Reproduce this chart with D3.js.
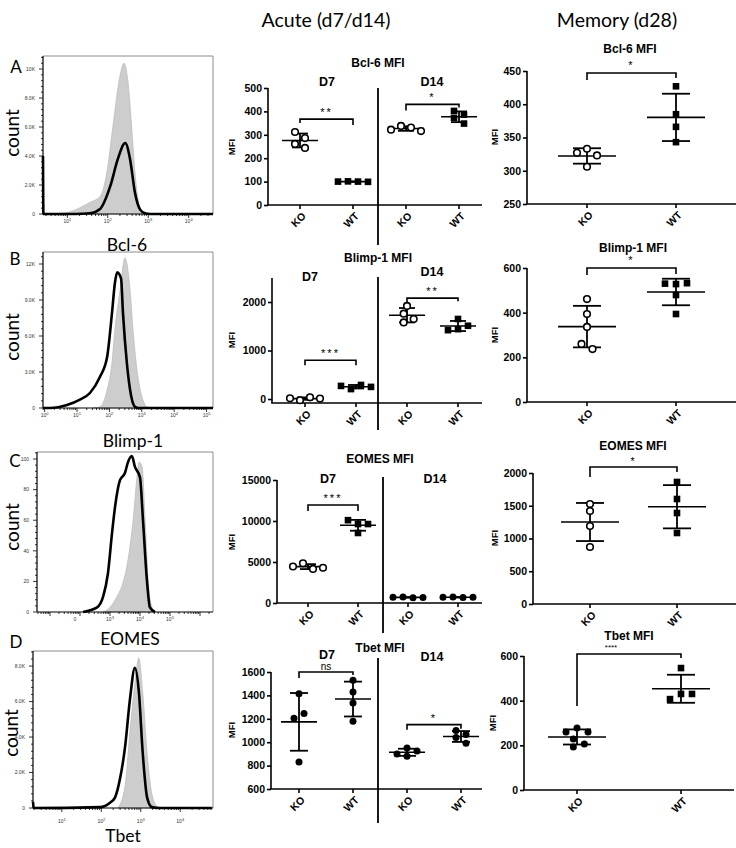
<!DOCTYPE html>
<html><head><meta charset="utf-8">
<script src="https://cdn.jsdelivr.net/npm/d3@7"></script>
<style>body{margin:0;background:#fff}svg{display:block}</style>
</head><body>
<script>
// ================= DATA =================
const groups = ["KO", "WT"];
const acuteCats = ["KO", "WT", "KO", "WT"];

// Flow histograms: [log10 fluorescence, count]
const bcl6HistFilled = [[0.7,20],[0.99,100],[1.56,800],[1.81,1200],[1.98,2900],[2.13,6100],[2.30,9500],[2.40,10400],[2.50,9100],[2.60,5600],[2.67,2900],[2.75,1000],[2.85,100],[3.0,0]];
const bcl6HistLine = [[0.4,4000],[0.41,0],[1.2,0],[1.56,50],[1.81,350],[2.06,1900],[2.25,3800],[2.43,4900],[2.55,3800],[2.67,1500],[2.80,300],[2.92,50],[3.05,0],[4.6,0]];
const blimpHistFilled = [[1.5,0],[1.71,100],[1.93,1500],[2.08,3750],[2.17,6500],[2.33,9800],[2.48,12500],[2.64,9800],[2.73,6500],[2.85,3200],[3.01,900],[3.16,100],[3.32,0]];
const blimpHistLine = [[-0.05,0],[0.17,0],[0.69,250],[1.09,700],[1.40,1250],[1.71,2600],[1.93,4250],[2.08,7900],[2.17,10400],[2.24,11300],[2.36,10800],[2.42,7900],[2.54,3750],[2.64,1500],[2.79,100],[2.9,0],[5.2,0]];
const eomesHistFilled = [[2.77,0],[3.0,3],[3.23,10],[3.43,19],[3.6,34],[3.77,60],[3.9,88],[3.97,98],[4.07,95],[4.17,60],[4.27,21],[4.4,3],[4.5,0]];
const eomesHistLine = [[2.1,0],[2.57,3],[2.77,10],[2.93,25],[3.07,52],[3.17,69],[3.33,86],[3.5,91],[3.6,98],[3.73,102],[3.83,95],[4.0,88],[4.1,60],[4.23,21],[4.33,3],[4.5,0]];
const tbetHistFilled = [[2.42,0],[2.60,1200],[2.73,4400],[2.85,7000],[2.95,8450],[3.05,6500],[3.16,3100],[3.28,800],[3.41,100],[3.54,0]];
const tbetHistLine = [[0.27,350],[0.29,0],[1.97,50],[2.22,300],[2.35,600],[2.47,1600],[2.60,3400],[2.73,6200],[2.85,7900],[2.95,6600],[3.05,3100],[3.16,600],[3.28,50],[3.49,0],[4.8,0]];

// Histogram axis ticks
const bcl6CountTicks = [0,2000,4000,6000,8000,10000];
const bcl6CountLabels = ["0","2.0K","4.0K","6.0K","8.0K","10K"];
const blimpCountTicks = [0,3000,6000,9000,12000];
const blimpCountLabels = ["0","3.0K","6.0K","9.0K","12K"];
const eomesCountTicks = [0,20,40,60,80,100];
const eomesCountLabels = ["0","20","40","60","80","100"];
const tbetCountTicks = [0,2000,4000,6000,8000];
const tbetCountLabels = ["0","2.0K","4.0K","6.0K","8.0K"];
const bcl6Decades = [1,2,3,4];
const blimpDecades = [0,1,2,3,4,5];
const eomesDecades = [3,4,5];
const tbetDecades = [1,2,3,4];

// Acute MFI (D7 KO, D7 WT, D14 KO, D14 WT)
const bcl6AcuteD7KO = [312, 286, 261, 244];
const bcl6AcuteD7WT = [101, 100, 100, 99];
const bcl6AcuteD14KO = [338, 331, 322, 316];
const bcl6AcuteD14WT = [402, 386, 372, 348];
const bcl6AcuteTicks = [0,100,200,300,400,500];
const bcl6AcuteSig = ["**", "*"];
const bcl6AcuteBracket = [367, 430];

const blimpAcuteD7KO = [-25, 35, 15, 10];
const blimpAcuteD7WT = [205, 290, 270, 250];
const blimpAcuteD14KO = [1920, 1760, 1650, 1580];
const blimpAcuteD14WT = [1650, 1510, 1440, 1420];
const blimpAcuteTicks = [0,1000,2000];
const blimpAcuteSig = ["***", "**"];
const blimpAcuteBracket = [800, 2080];

const eomesAcuteD7KO = [4850, 4150, 4450, 4300];
const eomesAcuteD7WT = [9630, 9630, 10100, 8540];
const eomesAcuteD14KO = [720, 650, 700, 680];
const eomesAcuteD14WT = [740, 660, 690, 700];
const eomesAcuteTicks = [0,5000,10000,15000];
const eomesAcuteSig = ["***"];
const eomesAcuteBracket = [11950];

const tbetAcuteD7KO = [1415, 1205, 1245, 830];
const tbetAcuteD7WT = [1530, 1430, 1335, 1180];
const tbetAcuteD14KO = [950, 925, 900, 880];
const tbetAcuteD14WT = [1100, 1065, 1040, 990];
const tbetAcuteTicks = [600,800,1000,1200,1400,1600];
const tbetAcuteSig = ["ns", "*"];
const tbetAcuteBracket = [1600, 1150];

// Memory MFI (d28)
const bcl6MemKO = [333, 323, 327, 306];
const bcl6MemWT = [427, 385, 366, 343];
const bcl6MemTicks = [250,300,350,400,450];
const blimpMemKO = [461, 394, 336, 260, 237];
const blimpMemWT = [528, 532, 530, 479, 394];
const blimpMemTicks = [0,200,400,600];
const eomesMemKO = [1527, 1420, 1190, 870];
const eomesMemWT = [1863, 1603, 1389, 1084];
const eomesMemTicks = [0,500,1000,1500,2000];
const tbetMemKO = [278, 260, 260, 228, 206, 193];
const tbetMemWT = [546, 430, 430, 407];
const tbetMemTicks = [0,200,400,600];
const memSig = ["*", "*", "*", "****"];
const memBracket = [447, 600, 2092, 609];

// ================= DRAWING =================
const W = 736, H = 848;
const ARIAL = "'Liberation Sans', Arial, Helvetica, sans-serif";
const CAL = "Lato, 'Open Sans', sans-serif";
const svg = d3.select("body").append("svg").attr("width", W).attr("height", H);
svg.append("rect").attr("width", W).attr("height", H).attr("fill", "#fff");

function txt(x, y, s, size, opts = {}) {
  const t = svg.append("text").attr("x", x).attr("y", y).text(s)
    .style("font-family", opts.family || ARIAL)
    .style("font-size", size + "px")
    .style("font-weight", opts.weight || "normal")
    .attr("text-anchor", opts.anchor || "middle")
    .attr("fill", opts.fill || "#000");
  if (opts.rotate) t.attr("transform", `rotate(${opts.rotate},${x},${y})`);
  if (opts.ls) t.style("letter-spacing", opts.ls);
  return t;
}

// Headers
txt(326, 27, "Acute (d7/d14)", 19.5, {family: CAL});
txt(617, 27, "Memory (d28)", 19.5, {family: CAL});

// ---------- Histograms ----------
function histogram(o) {
  const g = svg.append("g");
  const x = d3.scaleLinear().domain(o.xDomain).range([o.left, o.right]);
  const y = d3.scaleLinear().domain([0, o.yTopVal]).range([o.bottom, o.top]);
  g.append("path").attr("d", `M${o.left},${o.top}H${o.right}V${o.bottom}`)
    .attr("fill", "none").attr("stroke", "#8c8c8c").attr("stroke-width", 1);
  const area = d3.area().x(d => x(d[0])).y0(y(0)).y1(d => y(d[1])).curve(d3.curveMonotoneX);
  g.append("path").datum(o.filled).attr("d", area)
    .attr("fill", "#cdcdcd").attr("stroke", "#bcbcbc").attr("stroke-width", 0.8);
  const line = d3.line().x(d => x(d[0])).y(d => y(d[1])).curve(d3.curveMonotoneX);
  g.append("path").datum(o.line).attr("d", line)
    .attr("fill", "none").attr("stroke", "#000").attr("stroke-width", 2.6).attr("stroke-linejoin", "round");
  // left axis
  g.append("line").attr("x1", o.left).attr("x2", o.left).attr("y1", o.top).attr("y2", o.bottom)
    .attr("stroke", "#000").attr("stroke-width", 1.2);
  const step = o.yTicks[1] - o.yTicks[0];
  for (let v = 0; v <= o.yTopVal; v += step / 5) {
    const major = o.yTicks.some(t => Math.abs(t - v) < 1e-6);
    g.append("line").attr("x1", o.left - (major ? 4 : 2)).attr("x2", o.left)
      .attr("y1", y(v)).attr("y2", y(v)).attr("stroke", "#000").attr("stroke-width", 0.8);
  }
  o.yTicks.forEach((t, i) => {
    g.append("text").attr("x", o.left - 8).attr("y", y(t) + 1.8).text(o.yLabels[i])
      .attr("text-anchor", "end").style("font-family", ARIAL).style("font-size", "5px").attr("fill", "#333");
  });
  // bottom axis
  g.append("line").attr("x1", o.left).attr("x2", o.right).attr("y1", o.bottom).attr("y2", o.bottom)
    .attr("stroke", "#000").attr("stroke-width", 1.2);
  const d0 = Math.floor(o.xDomain[0]), d1 = Math.ceil(o.xDomain[1]);
  for (let d = d0; d <= d1; d++) {
    for (let k = 1; k <= 9; k++) {
      const v = d + Math.log10(k);
      if (v < o.xDomain[0] || v > o.xDomain[1]) continue;
      g.append("line").attr("x1", x(v)).attr("x2", x(v)).attr("y1", o.bottom).attr("y2", o.bottom + (k === 1 ? 4 : 2))
        .attr("stroke", "#000").attr("stroke-width", 0.8);
    }
  }
  o.decades.forEach(dd => {
    const t = g.append("text").attr("x", x(dd)).attr("y", o.bottom + o.labelDy)
      .attr("text-anchor", "middle").style("font-family", ARIAL).style("font-size", "5px").attr("fill", "#333");
    t.append("tspan").text("10");
    t.append("tspan").text(dd).attr("dy", -2.5).style("font-size", "4px");
  });
  if (o.zeroLabel) {
    g.append("text").attr("x", x(o.zeroLabel)).attr("y", o.bottom + o.labelDy).text("0")
      .attr("text-anchor", "middle").style("font-family", ARIAL).style("font-size", "5px").attr("fill", "#333");
  }
  // labels
  txt(o.letterX, o.letterY, o.letter, 17, {family: CAL});
  txt(o.countX, o.countY, "count", 19, {family: CAL, rotate: -90});
  txt(o.markerX, o.markerY, o.marker, 17.5, {family: CAL});
}

histogram({left: 43, right: 213, top: 56, bottom: 214, xDomain: [0.4, 4.6], yTopVal: 10900,
  filled: bcl6HistFilled, line: bcl6HistLine, yTicks: bcl6CountTicks, yLabels: bcl6CountLabels,
  decades: bcl6Decades, labelDy: 9, letter: "A", letterX: 16, letterY: 73, countX: 19, countY: 133,
  marker: "Bcl-6", markerX: 127, markerY: 251});
histogram({left: 43, right: 213, top: 252, bottom: 408, xDomain: [-0.05, 5.2], yTopVal: 13000,
  filled: blimpHistFilled, line: blimpHistLine, yTicks: blimpCountTicks, yLabels: blimpCountLabels,
  decades: blimpDecades, labelDy: 9, letter: "B", letterX: 15, letterY: 265, countX: 19, countY: 337,
  marker: "Blimp-1", markerX: 133, markerY: 447});
histogram({left: 37, right: 213, top: 452, bottom: 612, xDomain: [0.567, 6.433], yTopVal: 104.6,
  filled: eomesHistFilled, line: eomesHistLine, yTicks: eomesCountTicks, yLabels: eomesCountLabels,
  decades: eomesDecades, zeroLabel: 1.83, labelDy: 9, letter: "C", letterX: 15, letterY: 467, countX: 19, countY: 527,
  marker: "EOMES", markerX: 130, markerY: 645});
histogram({left: 33, right: 213, top: 651, bottom: 808, xDomain: [0.27, 4.83], yTopVal: 8850,
  filled: tbetHistFilled, line: tbetHistLine, yTicks: tbetCountTicks, yLabels: tbetCountLabels,
  decades: tbetDecades, labelDy: 15, letter: "D", letterX: 16, letterY: 648, countX: 18, countY: 733,
  marker: "Tbet", markerX: 123, markerY: 842});

// ---------- Dot plots ----------
function swarm(vals, y, d, thr) {
  const placed = [];
  vals.forEach(v => {
    const py = y(v);
    const cands = [0, d, -d, 2 * d, -2 * d, 3 * d, -3 * d];
    for (const c of cands) {
      if (!placed.some(p => Math.abs(p.py - py) < thr && Math.abs(p.o - c) < d * 0.9)) {
        placed.push({v, py, o: c}); break;
      }
    }
  });
  const n = placed.length, comp = new Array(n).fill(-1);
  let c = 0;
  for (let i = 0; i < n; i++) {
    if (comp[i] >= 0) continue;
    const st = [i]; comp[i] = c;
    while (st.length) {
      const a = st.pop();
      for (let b = 0; b < n; b++) if (comp[b] < 0 && Math.abs(placed[a].py - placed[b].py) < thr) { comp[b] = c; st.push(b); }
    }
    c++;
  }
  for (let k = 0; k < c; k++) {
    const m = placed.filter((p, i) => comp[i] === k);
    const mo = d3.mean(m, p => p.o);
    m.forEach(p => p.o -= mo);
  }
  return placed;
}

function marker(g, x, y, shape) {
  if (shape === "square") {
    g.append("rect").attr("x", x - 3.3).attr("y", y - 3.3).attr("width", 6.6).attr("height", 6.6).attr("fill", "#000");
  } else if (shape === "dot") {
    g.append("circle").attr("cx", x).attr("cy", y).attr("r", 3.5).attr("fill", "#000");
  } else {
    g.append("circle").attr("cx", x).attr("cy", y).attr("r", 3.3).attr("fill", "#fff").attr("stroke", "#000").attr("stroke-width", 1.6);
  }
}

function dotPanel(o) {
  const g = svg.append("g");
  const y = d3.scaleLinear().domain(o.yDomain).range([o.bottom, o.top]);
  const ax = g.append("g").attr("transform", `translate(${o.left},0)`)
    .call(d3.axisLeft(y).tickValues(o.yTicks).tickSize(4).tickSizeOuter(0).tickFormat(d3.format("d")));
  ax.select(".domain").attr("stroke-width", 1.6).attr("d", `M0,${o.bottom}V${o.top}`);
  ax.selectAll(".tick line").attr("stroke-width", 1.6);
  ax.selectAll("text").style("font-family", ARIAL).style("font-weight", "bold").style("font-size", o.tickFont + "px")
    .attr("x", -6);
  g.append("line").attr("x1", o.left - 0.8).attr("x2", o.right).attr("y1", o.bottom).attr("y2", o.bottom)
    .attr("stroke", "#000").attr("stroke-width", 1.6);
  o.cats.forEach((cname, i) => {
    const cx = o.x(i);
    g.append("line").attr("x1", cx).attr("x2", cx).attr("y1", o.bottom).attr("y2", o.bottom + 4)
      .attr("stroke", "#000").attr("stroke-width", 1.6);
    g.append("text").text(cname)
      .attr("transform", `translate(${cx + 4},${o.bottom + 9}) rotate(-45)`)
      .attr("text-anchor", "end").attr("dy", "0.35em")
      .style("font-family", ARIAL).style("font-weight", "bold").style("font-size", "10.5px");
  });
  o.series.forEach((s, i) => {
    const cx = o.x(i);
    const m = d3.mean(s.vals), sd = d3.deviation(s.vals);
    g.append("line").attr("x1", cx).attr("x2", cx).attr("y1", y(m - sd)).attr("y2", y(m + sd))
      .attr("stroke", "#000").attr("stroke-width", 1.8);
    g.append("line").attr("x1", cx - o.mw).attr("x2", cx + o.mw).attr("y1", y(m)).attr("y2", y(m))
      .attr("stroke", "#000").attr("stroke-width", 1.6);
    [m - sd, m + sd].forEach(v => g.append("line").attr("x1", cx - o.ww).attr("x2", cx + o.ww).attr("y1", y(v)).attr("y2", y(v))
      .attr("stroke", "#000").attr("stroke-width", 1.8));
    swarm(s.vals, y, o.swarmD, 7).forEach(p => marker(g, cx + p.o, p.py, s.shape));
  });
  o.brackets.forEach(b => {
    const x1 = o.x(b.i1), x2 = o.x(b.i2), yy = y(b.v);
    g.append("path").attr("d", `M${x1},${yy + b.leg1}V${yy}H${x2}V${yy + b.leg2}`)
      .attr("fill", "none").attr("stroke", "#000").attr("stroke-width", 1.6);
    txt((x1 + x2) / 2 + (b.dx || 0), yy - (b.lift || 3), b.label, b.size || 11,
      {weight: b.weight || "normal", ls: b.ls || "2px"});
  });
  txt(o.titleX, o.titleY, o.title, 12, {weight: "bold"});
  txt(o.mfiX, o.mfiY, "MFI", 9.5, {weight: "bold", rotate: -90});
  if (o.divider) {
    g.append("line").attr("x1", o.divider.x).attr("x2", o.divider.x).attr("y1", o.divider.y1).attr("y2", o.divider.y2)
      .attr("stroke", "#000").attr("stroke-width", 1.8);
  }
  (o.dayLabels || []).forEach(dl => txt(dl.x, dl.y, dl.t, 12.5, {weight: "bold"}));
}

function acuteX(ko, step) {
  return d3.scaleLinear().domain([0, 1]).range([ko, ko + step]);
}
function memX(ko, wt) {
  const p = d3.scalePoint().domain(groups).range([ko, wt]);
  return i => p(groups[i]);
}

// Acute panels
dotPanel({left: 268, right: 482, top: 88, bottom: 205, yDomain: [0, 500], yTicks: bcl6AcuteTicks, tickFont: 10.5,
  x: acuteX(300, 53), cats: acuteCats, mw: 18, ww: 8, swarmD: 10,
  series: [{vals: bcl6AcuteD7KO, shape: "open"}, {vals: bcl6AcuteD7WT, shape: "square"},
           {vals: bcl6AcuteD14KO, shape: "open"}, {vals: bcl6AcuteD14WT, shape: "square"}],
  brackets: [{i1: 0, i2: 1, v: bcl6AcuteBracket[0], leg1: 4, leg2: 6, label: bcl6AcuteSig[0]},
             {i1: 2, i2: 3, v: bcl6AcuteBracket[1], leg1: 6, leg2: 3, label: bcl6AcuteSig[1]}],
  title: "Bcl-6 MFI", titleX: 378, titleY: 67, mfiX: 235, mfiY: 147,
  divider: {x: 378, y1: 88, y2: 245},
  dayLabels: [{x: 327, y: 86, t: "D7"}, {x: 432, y: 86, t: "D14"}]});

dotPanel({left: 272, right: 482, top: 278, bottom: 403, yDomain: [-82, 2495], yTicks: blimpAcuteTicks, tickFont: 10.5,
  x: acuteX(305, 51), cats: acuteCats, mw: 18, ww: 8, swarmD: 10,
  series: [{vals: blimpAcuteD7KO, shape: "open"}, {vals: blimpAcuteD7WT, shape: "square"},
           {vals: blimpAcuteD14KO, shape: "open"}, {vals: blimpAcuteD14WT, shape: "square"}],
  brackets: [{i1: 0, i2: 1, v: blimpAcuteBracket[0], leg1: 5, leg2: 5, label: blimpAcuteSig[0]},
             {i1: 2, i2: 3, v: blimpAcuteBracket[1], leg1: 5, leg2: 3, label: blimpAcuteSig[1]}],
  title: "Blimp-1 MFI", titleX: 378, titleY: 262, mfiX: 235, mfiY: 340,
  divider: {x: 378, y1: 277, y2: 430},
  dayLabels: [{x: 310, y: 281, t: "D7"}, {x: 432, y: 276, t: "D14"}]});

dotPanel({left: 277, right: 482, top: 480, bottom: 603, yDomain: [0, 15000], yTicks: eomesAcuteTicks, tickFont: 10.5,
  x: acuteX(308, 50), cats: acuteCats, mw: 18, ww: 8, swarmD: 10,
  series: [{vals: eomesAcuteD7KO, shape: "open"}, {vals: eomesAcuteD7WT, shape: "square"},
           {vals: eomesAcuteD14KO, shape: "dot"}, {vals: eomesAcuteD14WT, shape: "dot"}],
  brackets: [{i1: 0, i2: 1, v: eomesAcuteBracket[0], leg1: 6, leg2: 6, label: eomesAcuteSig[0]}],
  title: "EOMES MFI", titleX: 380, titleY: 463, mfiX: 235, mfiY: 542,
  divider: {x: 383, y1: 477, y2: 633},
  dayLabels: [{x: 328, y: 483, t: "D7"}, {x: 435, y: 483, t: "D14"}]});

dotPanel({left: 271, right: 482, top: 672, bottom: 789, yDomain: [600, 1600], yTicks: tbetAcuteTicks, tickFont: 10.5,
  x: acuteX(299, 54), cats: acuteCats, mw: 18, ww: 9, swarmD: 10,
  series: [{vals: tbetAcuteD7KO, shape: "dot"}, {vals: tbetAcuteD7WT, shape: "dot"},
           {vals: tbetAcuteD14KO, shape: "dot"}, {vals: tbetAcuteD14WT, shape: "dot"}],
  brackets: [{i1: 0, i2: 1, v: tbetAcuteBracket[0], leg1: 6, leg2: 3, label: tbetAcuteSig[0], size: 10, ls: "0px", lift: 2.5},
             {i1: 2, i2: 3, v: tbetAcuteBracket[1], leg1: 5, leg2: 4, label: tbetAcuteSig[1]}],
  title: "Tbet MFI", titleX: 380, titleY: 652, mfiX: 235, mfiY: 730,
  divider: {x: 378, y1: 658, y2: 823},
  dayLabels: [{x: 327, y: 659, t: "D7"}, {x: 432, y: 661, t: "D14"}]});

// Memory panels
dotPanel({left: 527, right: 736, top: 71, bottom: 204, yDomain: [250, 450], yTicks: bcl6MemTicks, tickFont: 10.5,
  x: memX(587, 676), cats: groups, mw: 29, ww: 14, swarmD: 10,
  series: [{vals: bcl6MemKO, shape: "open"}, {vals: bcl6MemWT, shape: "square"}],
  brackets: [{i1: 0, i2: 1, v: memBracket[0], leg1: 7, leg2: 5, label: memSig[0], lift: 4}],
  title: "Bcl-6 MFI", titleX: 630, titleY: 53, mfiX: 498, mfiY: 137});

dotPanel({left: 527, right: 736, top: 268, bottom: 402, yDomain: [0, 600], yTicks: blimpMemTicks, tickFont: 10.5,
  x: memX(587, 676), cats: groups, mw: 29, ww: 14, swarmD: 11,
  series: [{vals: blimpMemKO, shape: "open"}, {vals: blimpMemWT, shape: "square"}],
  brackets: [{i1: 0, i2: 1, v: memBracket[1], leg1: 7, leg2: 6, label: memSig[1], lift: 4}],
  title: "Blimp-1 MFI", titleX: 633, titleY: 252, mfiX: 498, mfiY: 335});

dotPanel({left: 533, right: 736, top: 473, bottom: 604, yDomain: [0, 2000], yTicks: eomesMemTicks, tickFont: 10.5,
  x: memX(590, 677), cats: groups, mw: 29, ww: 14, swarmD: 10,
  series: [{vals: eomesMemKO, shape: "open"}, {vals: eomesMemWT, shape: "square"}],
  brackets: [{i1: 0, i2: 1, v: memBracket[2], leg1: 10, leg2: 5, label: memSig[2], lift: 1.5, size: 10.5}],
  title: "EOMES MFI", titleX: 633, titleY: 450, mfiX: 498, mfiY: 538});

dotPanel({left: 524, right: 734, top: 656, bottom: 790, yDomain: [0, 600], yTicks: tbetMemTicks, tickFont: 10.5,
  x: memX(577, 681), cats: groups, mw: 29, ww: 14, swarmD: 11,
  series: [{vals: tbetMemKO, shape: "dot"}, {vals: tbetMemWT, shape: "square"}],
  brackets: [{i1: 0, i2: 1, v: memBracket[3], leg1: 52, leg2: 4, label: memSig[3], size: 8, ls: "0px", dx: -18, lift: 4}],
  title: "Tbet MFI", titleX: 629, titleY: 640, mfiX: 496, mfiY: 723});
</script>
</body></html>
